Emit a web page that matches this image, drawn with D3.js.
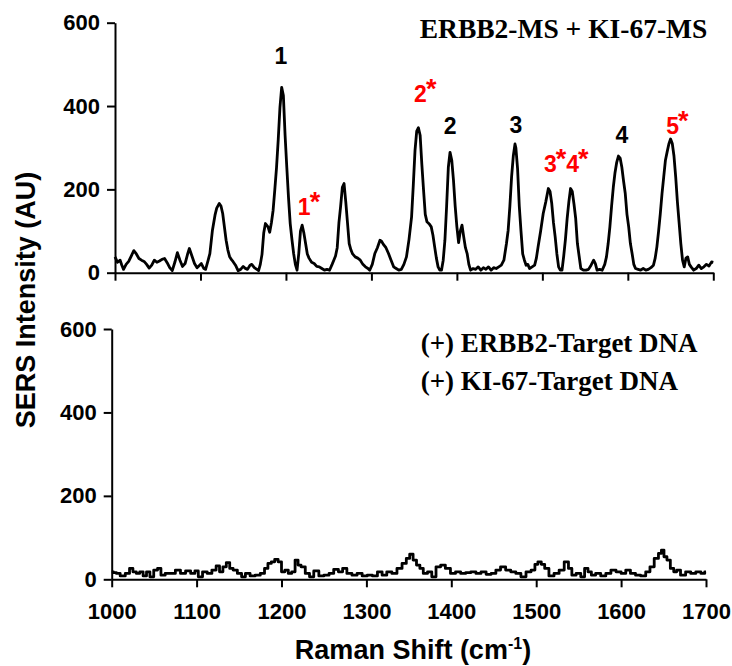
<!DOCTYPE html>
<html lang="en">
  <head>
    <meta charset="utf-8" />
    <title>SERS spectra</title>
    <script src="https://cdnjs.cloudflare.com/ajax/libs/d3/7.8.5/d3.min.js"></script>
    <style>
      body { margin: 0; background: #fff; }
      .axis path, .axis line { stroke: #000; stroke-width: 2; }
      .axis text { font-family: Arial, "Liberation Sans", sans-serif; font-weight: bold; font-size: 22px; fill: #000; }
      .title { font-family: Arial, "Liberation Sans", sans-serif; font-weight: bold; font-size: 27px; }
      .serif { font-family: "Times New Roman", "Liberation Serif", serif; font-weight: bold; font-size: 27px; }
      .peak { font-family: Arial, "Liberation Sans", sans-serif; font-weight: bold; font-size: 23px; text-anchor: middle; }
    </style>
  </head>
  <body>
    <script>
      const width = 732;
      const height = 666;

      // ERBB2-MS + KI-67-MS spectrum: [Raman shift, intensity]
      const msSpectrum = [
        [1000,38],[1003,25],[1006,30],[1008,18],[1010,8],[1013,20],[1016,27],[1019,40],[1022,53],[1025,45],
        [1028,34],[1031,30],[1034,27],[1037,20],[1040,11],[1043,18],[1046,30],[1049,25],[1052,28],[1055,32],
        [1058,34],[1061,24],[1064,12],[1067,5],[1070,25],[1073,48],[1076,30],[1079,15],[1082,22],[1085,45],
        [1087,58],[1090,40],[1093,22],[1096,12],[1099,18],[1101,22],[1104,10],[1106,8],[1109,30],[1111,46],
        [1114,102],[1117,138],[1119,155],[1122,166],[1124,160],[1126,142],[1128,110],[1130,78],[1132,55],[1134,39],
        [1136,32],[1138,27],[1141,18],[1144,5],[1147,8],[1150,15],[1152,11],[1155,8],[1158,18],[1160,20],
        [1163,12],[1166,8],[1168,5],[1170,20],[1172,44],[1174,95],[1176,118],[1179,110],[1181,97],[1183,120],
        [1185,150],[1187,200],[1189,253],[1191,320],[1193,397],[1195,445],[1197,425],[1199,330],[1201,253],[1203,180],
        [1205,118],[1207,80],[1209,46],[1211,20],[1213,6],[1215,46],[1217,100],[1219,114],[1221,95],[1223,70],
        [1225,45],[1227,35],[1230,25],[1233,22],[1236,15],[1239,14],[1242,10],[1245,6],[1248,8],[1251,6],
        [1254,20],[1256,30],[1258,40],[1260,60],[1262,120],[1264,160],[1266,205],[1268,214],[1270,170],[1272,120],
        [1274,70],[1276,55],[1278,45],[1281,38],[1284,35],[1287,30],[1290,20],[1293,14],[1296,10],[1298,6],
        [1301,20],[1304,46],[1307,60],[1310,78],[1312,75],[1314,68],[1317,60],[1320,46],[1323,30],[1326,14],
        [1329,10],[1332,6],[1335,8],[1338,20],[1341,38],[1344,80],[1347,134],[1349,210],[1351,293],[1353,340],
        [1355,348],[1357,330],[1359,260],[1361,198],[1363,140],[1365,122],[1368,116],[1370,110],[1372,90],[1374,62],
        [1376,35],[1378,14],[1380,6],[1382,6],[1384,30],[1386,78],[1388,160],[1390,253],[1392,289],[1394,270],
        [1396,222],[1398,160],[1400,110],[1402,72],[1404,100],[1406,114],[1408,86],[1410,60],[1412,46],[1414,20],
        [1416,6],[1419,10],[1422,8],[1425,14],[1428,6],[1431,12],[1434,8],[1437,14],[1440,6],[1443,12],
        [1446,10],[1449,14],[1452,18],[1455,30],[1458,70],[1460,102],[1462,160],[1464,230],[1466,280],[1468,309],
        [1469,300],[1471,250],[1473,160],[1475,100],[1477,45],[1479,30],[1481,18],[1483,20],[1485,10],[1488,14],
        [1491,18],[1493,35],[1495,62],[1498,100],[1501,142],[1504,170],[1507,202],[1509,195],[1511,166],[1513,120],
        [1515,86],[1517,45],[1519,14],[1521,6],[1523,6],[1525,40],[1527,80],[1529,130],[1531,170],[1533,202],
        [1535,195],[1537,165],[1539,130],[1541,70],[1543,40],[1545,10],[1548,6],[1551,6],[1554,8],[1557,18],
        [1560,30],[1562,22],[1564,6],[1567,8],[1570,6],[1573,20],[1575,38],[1577,70],[1579,110],[1581,160],
        [1583,205],[1585,240],[1587,265],[1589,280],[1591,275],[1593,253],[1595,220],[1597,190],[1599,140],[1601,110],
        [1603,70],[1605,46],[1607,20],[1609,10],[1612,8],[1615,6],[1618,10],[1621,6],[1624,8],[1627,12],
        [1630,18],[1632,35],[1634,62],[1636,100],[1638,142],[1640,190],[1642,230],[1644,270],[1646,290],[1648,309],
        [1650,321],[1652,310],[1654,280],[1656,230],[1658,170],[1660,120],[1662,70],[1664,30],[1666,14],[1668,35],
        [1670,38],[1672,20],[1674,14],[1677,6],[1680,10],[1683,18],[1686,10],[1689,14],[1692,20],[1695,16],
        [1698,26],[1700,25]
      ];

      // (+) target DNA spectrum: [Raman shift, intensity]
      const targetSpectrum = [
        [1000,18],[1004,16],[1007,14],[1013,8],[1019,14],[1023,26],[1027,18],[1031,14],[1035,18],[1039,8],
        [1043,18],[1047,6],[1052,22],[1056,26],[1060,10],[1066,14],[1072,14],[1078,22],[1084,14],[1090,20],
        [1096,14],[1100,20],[1104,6],[1110,18],[1115,14],[1121,22],[1125,32],[1129,18],[1133,30],[1137,40],
        [1141,26],[1145,22],[1151,14],[1155,6],[1160,14],[1166,8],[1172,10],[1178,14],[1182,26],[1186,38],
        [1190,42],[1194,48],[1198,42],[1202,18],[1206,22],[1210,14],[1214,18],[1218,46],[1221,34],[1225,30],
        [1231,14],[1235,6],[1241,20],[1247,8],[1253,10],[1259,14],[1264,24],[1270,18],[1274,26],[1280,14],
        [1286,10],[1292,14],[1298,8],[1304,10],[1310,8],[1316,18],[1321,10],[1327,18],[1333,14],[1339,26],
        [1345,38],[1349,50],[1353,60],[1357,46],[1361,34],[1365,26],[1369,14],[1375,18],[1379,6],[1385,30],
        [1390,34],[1396,26],[1402,14],[1408,18],[1414,14],[1420,16],[1426,18],[1432,14],[1438,18],[1444,12],
        [1450,14],[1455,22],[1461,30],[1467,22],[1473,18],[1479,14],[1485,6],[1491,18],[1497,22],[1500,36],
        [1504,42],[1508,36],[1512,26],[1518,8],[1524,14],[1530,22],[1536,42],[1540,26],[1544,10],[1550,14],
        [1555,6],[1559,26],[1563,18],[1567,10],[1573,14],[1579,8],[1585,14],[1591,22],[1597,18],[1603,14],
        [1608,22],[1614,14],[1620,10],[1626,8],[1632,18],[1636,30],[1642,50],[1646,62],[1649,70],[1652,54],
        [1656,46],[1660,26],[1664,18],[1667,22],[1673,10],[1679,18],[1685,14],[1691,18],[1697,14],[1700,18]
      ];

      const shiftTicks = [1000, 1100, 1200, 1300, 1400, 1500, 1600, 1700];
      const intensityTicks = [0, 200, 400, 600];

      // peak labels: [text, shift, intensity, colour]
      const peakLabels = [
        ["1", 1194, 501, "#000"],
        ["1*", 1227, 138, "#ff0000"],
        ["2*", 1363, 410, "#ff0000"],
        ["2", 1392, 334, "#000"],
        ["3", 1469, 336, "#000"],
        ["3*4*", 1528, 241, "#ff0000"],
        ["4", 1593, 312, "#000"],
        ["5*", 1658, 334, "#ff0000"]
      ];
      const topCaption = "ERBB2-MS + KI-67-MS";
      const bottomCaption = ["(+) ERBB2-Target DNA", "(+) KI-67-Target DNA"];

      const xTop = d3.scaleLinear().domain([1000, 1700]).range([115, 713.3]);
      const yTop = d3.scaleLinear().domain([0, 600]).range([272.7, 22.7]);
      const xBot = d3.scaleLinear().domain([1000, 1700]).range([111.7, 706]);
      const yBot = d3.scaleLinear().domain([0, 600]).range([579.3, 329]);

      const svg = d3.select("body").append("svg")
        .attr("width", width)
        .attr("height", height)
        .attr("viewBox", [0, 0, width, height]);

      function drawPanel(x, y, data, curve, withLabels) {
        svg.append("g")
          .attr("class", "axis")
          .attr("transform", `translate(${x.range()[0]},0)`)
          .call(d3.axisLeft(y).tickValues(intensityTicks).tickSize(8).tickPadding(7).tickSizeOuter(0));

        const xAxis = d3.axisBottom(x).tickValues(shiftTicks).tickSize(8).tickPadding(16)
          .tickSizeOuter(0).tickFormat(withLabels ? d3.format("d") : "");
        svg.append("g")
          .attr("class", "axis")
          .attr("transform", `translate(0,${y(0)})`)
          .call(xAxis);

        svg.append("path")
          .datum(data)
          .attr("fill", "none")
          .attr("stroke", "#000")
          .attr("stroke-width", 2.8)
          .attr("stroke-linejoin", "round")
          .attr("d", d3.line().curve(curve).x(d => x(d[0])).y(d => y(d[1])));
      }

      drawPanel(xTop, yTop, msSpectrum, d3.curveLinear, false);
      drawPanel(xBot, yBot, targetSpectrum, d3.curveStep, true);

      // peak labels, the asterisks a little larger and raised
      svg.selectAll(".peak")
        .data(peakLabels)
        .join("text")
        .attr("class", "peak")
        .attr("x", d => xTop(d[1]))
        .attr("y", d => yTop(d[2]))
        .attr("fill", d => d[3])
        .each(function (d) {
          const t = d3.select(this);
          let raised = false;
          for (const ch of d[0]) {
            if (ch === "*") {
              t.append("tspan").attr("dx", -1).attr("dy", -4).style("font-size", "27px").text(ch);
              raised = true;
            } else {
              t.append("tspan").attr("dy", raised ? 4 : 0).text(ch);
              raised = false;
            }
          }
        });

      svg.append("text")
        .attr("class", "serif")
        .attr("text-anchor", "end")
        .style("font-size", "27.5px")
        .attr("x", xTop(1693))
        .attr("y", yTop(563))
        .text(topCaption);

      svg.selectAll(".legend")
        .data(bottomCaption)
        .join("text")
        .attr("class", "serif legend")
        .attr("x", xBot(1364))
        .attr("y", (d, i) => yBot(545.5 - i * 92))
        .text(d => d);

      svg.append("text")
        .attr("class", "title")
        .attr("text-anchor", "middle")
        .attr("transform", "translate(35,300) rotate(-90)")
        .text("SERS Intensity (AU)");

      const xt = svg.append("text")
        .attr("class", "title")
        .attr("text-anchor", "middle")
        .attr("x", 413)
        .attr("y", 659);
      xt.append("tspan").text("Raman Shift (cm");
      xt.append("tspan").attr("font-size", "16px").attr("dy", -10).text("-1");
      xt.append("tspan").attr("dy", 10).text(")");
    </script>
  </body>
</html>
